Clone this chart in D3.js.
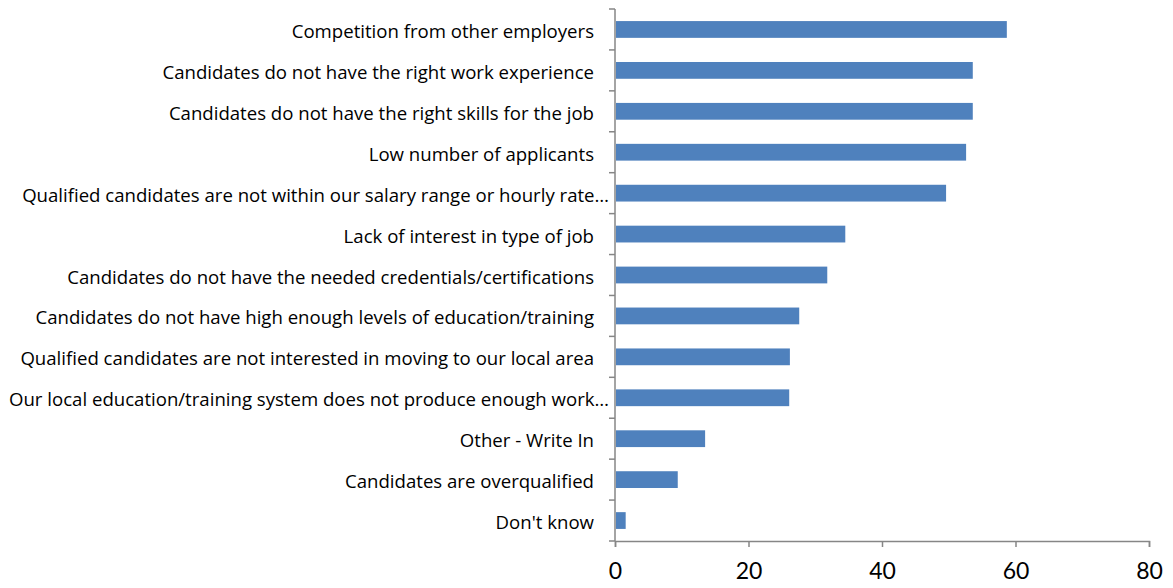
<!DOCTYPE html>
<html>
<head>
<meta charset="utf-8">
<script src="https://cdn.jsdelivr.net/npm/d3@7"></script>
<style>
  html, body { margin: 0; padding: 0; background: #fff; }
  svg { display: block; }
</style>
</head>
<body>
<svg id="chart" width="1173" height="588"></svg>
<script>
// Reasons for hiring difficulty, top to bottom
const categories = [
  "Competition from other employers",
  "Candidates do not have the right work experience",
  "Candidates do not have the right skills for the job",
  "Low number of applicants",
  "Qualified candidates are not within our salary range or hourly rate…",
  "Lack of interest in type of job",
  "Candidates do not have the needed credentials/certifications",
  "Candidates do not have high enough levels of education/training",
  "Qualified candidates are not interested in moving to our local area",
  "Our local education/training system does not produce enough work…",
  "Other - Write In",
  "Candidates are overqualified",
  "Don't know"
];
const values = [58.7, 53.6, 53.6, 52.6, 49.6, 34.5, 31.8, 27.6, 26.2, 26.1, 13.5, 9.4, 1.6];
const xTicks = [0, 20, 40, 60, 80];

const svg = d3.select("#chart");
const plot = { left: 615, right: 1149, top: 9, bottom: 541 };
const axisColor = "#868686";

const x = d3.scaleLinear().domain([0, 80]).range([plot.left, plot.right]);
const y = d3.scaleBand().domain(categories).range([plot.top, plot.bottom]).paddingInner(0.59).paddingOuter(0.295);
const yOuter = d3.scaleBand().domain(categories).range([plot.top, plot.bottom]);

// bars
svg.append("g").selectAll("rect")
  .data(categories)
  .join("rect")
  .attr("x", x(0) + 1)
  .attr("y", d => y(d))
  .attr("width", (d, i) => x(values[i]) - x(0) - 1)
  .attr("height", y.bandwidth())
  .attr("fill", "#4F81BD");

// category axis: line plus ticks at band boundaries
const gy = svg.append("g");
gy.append("line")
  .attr("x1", plot.left).attr("x2", plot.left)
  .attr("y1", plot.top).attr("y2", plot.bottom)
  .attr("stroke", axisColor).attr("stroke-width", 1.5);
const boundaries = categories.map(d => yOuter(d)).concat([plot.bottom]);
gy.selectAll("line.tick")
  .data(boundaries)
  .join("line")
  .attr("class", "tick")
  .attr("x1", plot.left - 6).attr("x2", plot.left)
  .attr("y1", d => d).attr("y2", d => d)
  .attr("stroke", axisColor).attr("stroke-width", 1.5);
gy.selectAll("text")
  .data(categories)
  .join("text")
  .attr("x", d => d.endsWith("…") ? plot.left - 6 : plot.left - 21)
  .attr("y", d => yOuter(d) + yOuter.bandwidth() / 2 + 2)
  .attr("dy", "0.35em")
  .attr("text-anchor", "end")
  .attr("font-family", "'Open Sans', Lato, sans-serif")
  .attr("font-size", 18.6)
  .attr("fill", "#000")
  .text(d => d);

// value axis
const xAxis = d3.axisBottom(x).tickValues(xTicks).tickSize(6).tickPadding(16).tickFormat(d3.format("d"));
const gx = svg.append("g").attr("transform", `translate(0,${plot.bottom})`).call(xAxis);
gx.select(".domain").attr("stroke", axisColor).attr("stroke-width", 1.5);
gx.selectAll(".tick line").attr("stroke", axisColor).attr("stroke-width", 1.5);
gx.selectAll(".tick text")
  .attr("font-family", "Lato, 'Open Sans', sans-serif")
  .attr("font-size", 23)
  .attr("fill", "#000");
</script>
</body>
</html>
